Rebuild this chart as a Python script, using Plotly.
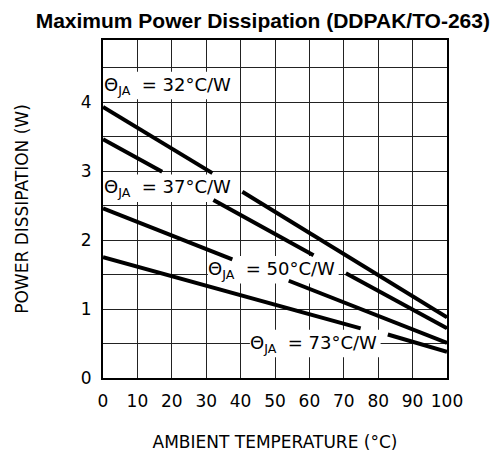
import plotly.graph_objects as go

# ambient temperature (°C) and power dissipation (W); None marks a gap under a label
temp_32 = [0, 31.8, None, 40.5, 100]
pd_32 = [3.93, 2.97, None, 2.70, 0.88]

temp_37 = [0, 17.2, None, 32.1, 61.2, None, 70.6, 100]
pd_37 = [3.46, 2.99, None, 2.58, 1.78, None, 1.52, 0.72]

temp_50 = [0, 37.6, None, 54.0, 100]
pd_50 = [2.46, 1.72, None, 1.41, 0.51]

temp_73 = [0, 74.9, None, 82.8, 100]
pd_73 = [1.75, 0.72, None, 0.63, 0.38]

x_ticks = list(range(0, 101, 10))
y_ticks = [0, 0.5, 1, 1.5, 2, 2.5, 3, 3.5, 4, 4.5]
y_ticktext = ["0", "", "1", "", "2", "", "3", "", "4", ""]

labels = ["32", "37", "50", "73"]
label_x = [1.0, 1.0, 31.0, 43.2]
label_y = [4.24, 2.75, 1.57, 0.5]

FONT = "DejaVu Sans"

fig = go.Figure()
for xs, ys in [(temp_32, pd_32), (temp_37, pd_37), (temp_50, pd_50), (temp_73, pd_73)]:
    fig.add_trace(go.Scatter(x=xs, y=ys, mode="lines",
                             line=dict(color="black", width=4), showlegend=False))

for lab, lx, ly in zip(labels, label_x, label_y):
    # white knock-out behind the label: above the grid, below the curves and axis lines
    fig.add_shape(type="rect", layer="between", xref="x", yref="y",
                  x0=max(lx - 0.5, 0.4), x1=lx + 37.5, y0=ly - 0.2, y1=ly + 0.2,
                  fillcolor="white", line=dict(width=0))
    fig.add_annotation(x=lx, y=ly, xref="x", yref="y", xanchor="left", yanchor="middle",
                       xshift=-4,
                       text=f"Θ<sub>JA</sub>\u00a0 = {lab}°C/W", showarrow=False,
                       font=dict(family=FONT, size=18, color="black"))

axis_common = dict(showline=True, linecolor="black", linewidth=2, mirror=True,
                   showgrid=True, gridcolor="#222222", gridwidth=1.3, zeroline=False,
                   automargin=False,
                   ticks="outside", tickcolor="rgba(0,0,0,0)",
                   tickfont=dict(family=FONT, size=17, color="black"))

fig.update_xaxes(range=[0, 100], tickvals=x_ticks, ticklen=7,
                 title=dict(text="AMBIENT TEMPERATURE (°C)", standoff=26,
                            font=dict(family=FONT, size=17, color="black")),
                 **axis_common)
fig.update_yaxes(range=[0, 4.9], tickvals=y_ticks, ticktext=y_ticktext, ticklen=6,
                 title=dict(text="POWER DISSIPATION (W)", standoff=48,
                            font=dict(family=FONT, size=17, color="black")),
                 **axis_common)

# the page body adds an 8px margin, so the figure is 8px smaller than the window
fig.update_layout(
    width=490, height=447,
    margin=dict(l=95, r=51, t=32, b=77),
    paper_bgcolor="white", plot_bgcolor="white",
    title=dict(text="<b>Maximum Power Dissipation (DDPAK/TO-263)</b>",
               x=0.52, xanchor="center", y=0.971, yanchor="middle",
               font=dict(family="Liberation Sans, Arial", size=21, color="black")),
)

fig.write_html("out.html")
